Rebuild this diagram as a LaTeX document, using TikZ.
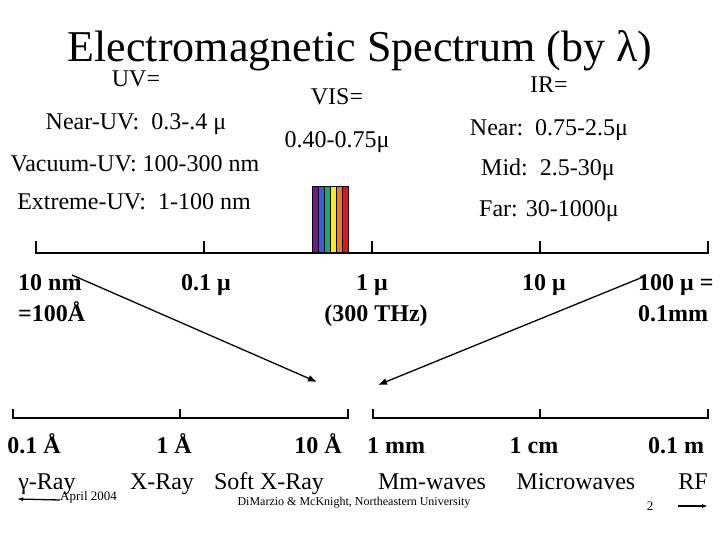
\documentclass[tikz,border=0pt]{standalone}
\usepackage{fontspec}
\setmainfont{Liberation Serif}
\usetikzlibrary{arrows.meta}

\definecolor{spviolet}{RGB}{112,24,140}
\definecolor{spblue}{RGB}{60,90,220}
\definecolor{spgreen}{RGB}{20,170,110}
\definecolor{spyellow}{RGB}{250,235,20}
\definecolor{sporange}{RGB}{240,120,30}
\definecolor{spred}{RGB}{230,20,20}

\tikzset{
	lbl/.style={anchor=base,inner sep=0pt,font=\fontsize{24}{28}\selectfont},
	ticklbl/.style={anchor=base,inner sep=0pt,font=\bfseries\fontsize{24}{28}\selectfont},
	note/.style={anchor=base,inner sep=0pt,font=\fontsize{12}{14}\selectfont},
	axisline/.style={line width=2.5pt},
	pointer/.style={line width=1.3pt,-{Latex[length=9pt,width=7pt]}},
	hint/.style={line width=1.3pt,-{Latex[length=6pt,width=4pt]}}
}

\begin{document}
\begin{tikzpicture}[x=1pt,y=-1pt]
\useasboundingbox (0,0) rectangle (720,540);
\node[anchor=base,inner sep=0pt,text depth=0pt,font=\fontsize{44}{50}\selectfont] (title) at (360,62) {Electromagnetic Spectrum (by λ)};

\node[lbl] (uv) at (136,87) {UV=};
\node[lbl] (vis) at (337,105) {VIS=};
\node[lbl] (ir) at (549,93) {IR=};
\node[lbl] (nearuv) at (136,130) {Near-UV:\ \ 0.3-.4 μ};
\node[lbl] (visrange) at (337,148) {0.40-0.75μ};
\node[lbl] (nearir) at (549,136) {Near:\ \ 0.75-2.5μ};
\node[lbl] (vacuv) at (135,172) {Vacuum-UV: 100-300 nm};
\node[lbl] (midir) at (548,176) {Mid:\ \ 2.5-30μ};
\node[lbl] (extuv) at (134,210) {Extreme-UV:\ \ 1-100 nm};
\node[lbl] (farir) at (549,217) {Far: 30-1000μ};

\foreach \c [count=\i from 0] in {spviolet,spblue,spgreen,spyellow,sporange,spred}
	\draw[fill=\c,line width=0.6pt] (312+6*\i,186) rectangle ++(6,67);

\draw[axisline] (36,241) -- (36,253) -- (708,253) -- (708,241);
\foreach \x in {204,372,540}
	\draw[axisline] (\x,253) -- ++(0,-12);

\node[ticklbl,anchor=base west] (nm) at (18,290) {10 nm};
\node[ticklbl,anchor=base west] (ang) at (18,321) {=100Å};
\foreach \x/\t [count=\i] in {206/0.1 μ,372/1 μ,544/10 μ}
	\node[ticklbl] (top\i) at (\x,290) {\t};
\node[ticklbl] (thz) at (376,321) {(300 THz)};
\node[ticklbl,anchor=base west] (hundred) at (638,290) {100 μ =};
\node[ticklbl,anchor=base west] (tenth) at (638,321) {0.1mm};

\coordinate (uvfrom) at (72,275);
\coordinate (uvto) at (317,382);
\coordinate (irfrom) at (643,277);
\coordinate (irto) at (378,385);
\draw[pointer] (uvfrom) -- (uvto);
\draw[pointer] (irfrom) -- (irto);

\draw[axisline] (13,409) -- (13,418) -- (348,418) -- (348,409);
\draw[axisline] (373,409) -- (373,418) -- (708,418) -- (708,409);
\foreach \x in {180,540}
	\draw[axisline] (\x,418) -- ++(0,-9);

\foreach \x/\t [count=\i] in {34/0.1 Å,174/1 Å,318/10 Å,396/1 mm,534/1 cm,676/0.1 m}
	\node[ticklbl] (bot\i) at (\x,453) {\t};
\foreach \x/\t [count=\i] in {47/γ-Ray,162/X-Ray,269/Soft X-Ray,432/Mm-waves,576/Microwaves,693/RF}
	\node[lbl] (band\i) at (\x,489) {\t};

\node[note,anchor=base west,font=\fontsize{13}{15}\selectfont] (date) at (60,500) {April 2004};
\node[note] (credit) at (354,505) {DiMarzio \& McKnight, Northeastern University};
\node[note,font=\fontsize{13}{15}\selectfont] (page) at (650,510) {2};
\coordinate (shortleft) at (17,499);
\coordinate (longfrom) at (678,506);
\coordinate (longright) at (708,506);
\draw[hint] (date.base west) -- (shortleft);
\draw[hint] (longfrom) -- (longright);
\end{tikzpicture}
\end{document}
